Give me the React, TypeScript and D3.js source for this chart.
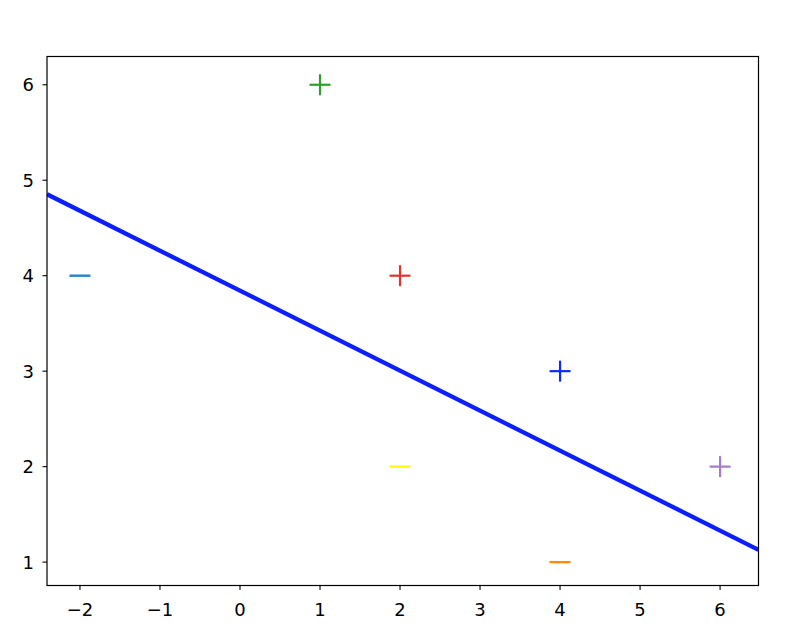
import React from "react";
import * as d3 from "d3";

const xDomain = [-2.412, 6.48];
const yDomain = [0.755, 6.296];
const xTicks = [-2, -1, 0, 1, 2, 3, 4, 5, 6];
const yTicks = [1, 2, 3, 4, 5, 6];

const plusX = [1, 2, 4, 6];
const plusY = [6, 4, 3, 2];
const plusColors = ["#2ca02c", "#e0342c", "#0a2cff", "#a47bcb"];

const minusX = [-2, 2, 4];
const minusY = [4, 2, 1];
const minusColors = ["#1f84d0", "#ffff00", "#ff8c0e"];

const lineX = [-2.412, 6.48];
const lineY = [4.853, 1.129];

export default function App() {
  const left = 47, right = 758.5, top = 56.5, bottom = 585.5;
  const x = d3.scaleLinear().domain(xDomain).range([left, right]);
  const y = d3.scaleLinear().domain(yDomain).range([bottom, top]);
  const line = d3.line<[number, number]>().x(d => x(d[0])).y(d => y(d[1]));
  const linePts: [number, number][] = lineX.map((v, i) => [v, lineY[i]]);
  const m = 10.5;
  const font = "'DejaVu Sans', sans-serif";
  const fs = 18;
  return (
    <svg width={800} height={639} style={{ position: "absolute", left: 0, top: 0, background: "#fff" }}>
      <defs>
        <clipPath id="plotclip">
          <rect x={left} y={top} width={right - left} height={bottom - top} />
        </clipPath>
      </defs>
      <g clipPath="url(#plotclip)">
        <path d={line(linePts) || ""} stroke="#0a1eff" strokeWidth={4.3} fill="none" />
      </g>
      {plusX.map((v, i) => (
        <g key={"p" + i} stroke={plusColors[i]} strokeWidth={2.2}>
          <line x1={x(v) - m} x2={x(v) + m} y1={y(plusY[i])} y2={y(plusY[i])} />
          <line x1={x(v)} x2={x(v)} y1={y(plusY[i]) - m} y2={y(plusY[i]) + m} />
        </g>
      ))}
      {minusX.map((v, i) => (
        <line key={"m" + i} stroke={minusColors[i]} strokeWidth={2.4}
          x1={x(v) - m} x2={x(v) + m} y1={y(minusY[i])} y2={y(minusY[i])} />
      ))}
      <rect x={left} y={top} width={right - left} height={bottom - top} fill="none" stroke="#000" strokeWidth={1.2} />
      {xTicks.map(t => (
        <g key={"x" + t}>
          <line x1={x(t)} x2={x(t)} y1={bottom} y2={bottom + 4.5} stroke="#000" strokeWidth={1.1} />
          <text x={x(t)} y={bottom + 30} textAnchor="middle" fontFamily={font} fontSize={fs} fill="#000">
            {t < 0 ? "\u2212" + Math.abs(t) : String(t)}
          </text>
        </g>
      ))}
      {yTicks.map(t => (
        <g key={"y" + t}>
          <line x1={left - 4.5} x2={left} y1={y(t)} y2={y(t)} stroke="#000" strokeWidth={1.1} />
          <text x={left - 13} y={y(t)} dy="0.36em" textAnchor="end" fontFamily={font} fontSize={fs} fill="#000">
            {String(t)}
          </text>
        </g>
      ))}
    </svg>
  );
}
